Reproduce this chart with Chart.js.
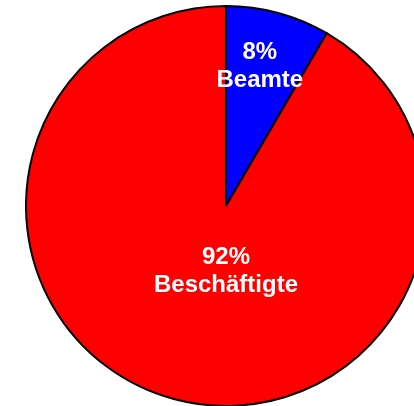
<!DOCTYPE html>
<html>
<head>
<meta charset="utf-8">
<script src="https://cdn.jsdelivr.net/npm/chart.js@4/dist/chart.umd.min.js"></script>
<style>
html,body{margin:0;padding:0;width:414px;height:406px;overflow:hidden;background:#fff;}
#wrap{position:absolute;left:25px;top:5px;width:402px;height:402px;}
</style>
</head>
<body>
<div id="wrap"><canvas id="c"></canvas></div>
<script>
const categories = ["Beamte", "Beschäftigte"];
const values = [8.4, 91.6];
const percentLabels = ["8%", "92%"];
const colors = ["#0000ff", "#ff0000"];

const labelPlugin = {
  id: 'sliceLabels',
  afterDatasetsDraw(chart, args, opts) {
    const ctx = chart.ctx;
    const meta = chart.getDatasetMeta(0);
    meta.data.forEach((arc, i) => {
      const p = opts.placement[i];
      const r = arc.outerRadius * p.frac;
      const a = (p.angle - 90) * Math.PI / 180;
      const x = arc.x + r * Math.cos(a);
      const y = arc.y + r * Math.sin(a);
      ctx.save();
      ctx.fillStyle = '#ffffff';
      ctx.font = 'bold 24px "Liberation Sans", Arial, sans-serif';
      ctx.textAlign = 'center';
      ctx.textBaseline = 'middle';
      ctx.fillText(percentLabels[i], x, y - 14);
      ctx.fillText(categories[i], x, y + 14);
      ctx.restore();
    });
  }
};

new Chart(document.getElementById('c'), {
  type: 'pie',
  data: {
    labels: categories,
    datasets: [{
      data: values,
      backgroundColor: colors,
      borderColor: '#000000',
      borderWidth: 2
    }]
  },
  options: {
    responsive: true,
    maintainAspectRatio: false,
    animation: false,
    layout: { padding: 0 },
    plugins: {
      legend: { display: false },
      tooltip: { enabled: false },
      sliceLabels: {
        placement: [{ angle: 13.6, frac: 0.72 }, { angle: 180, frac: 0.325 }]
      }
    }
  },
  plugins: [labelPlugin]
});
</script>
</body>
</html>
